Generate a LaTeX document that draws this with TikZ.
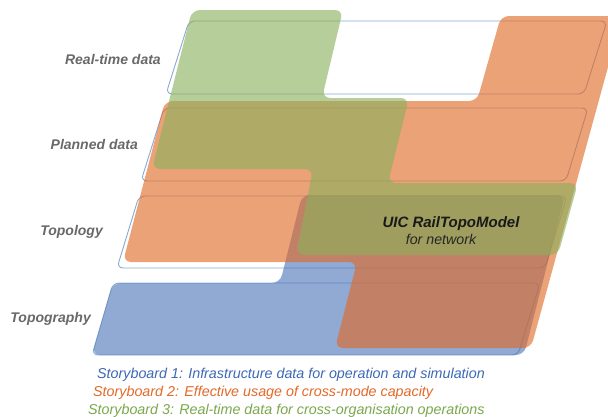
\documentclass[tikz,border=0pt]{standalone}
\usepackage{fontspec}
\setmainfont{Liberation Sans}
\definecolor{layerblue}{RGB}{135,170,208}
\definecolor{sbblue}{RGB}{78,118,186}
\definecolor{sborange}{RGB}{225,105,36}
\definecolor{sbgreen}{RGB}{138,176,92}
\definecolor{labelgray}{RGB}{105,105,105}
\definecolor{txtblue}{RGB}{60,105,182}
\definecolor{txtorange}{RGB}{228,105,40}
\definecolor{txtgreen}{RGB}{122,168,76}
\begin{document}
\begin{tikzpicture}[x=1pt,y=-1pt,
  layer/.style={draw=layerblue,line width=0.9pt,rounded corners=6pt},
  sbfill/.style={fill opacity=0.62,rounded corners=8pt},
  layerlabel/.style={anchor=base east,inner sep=0pt,text=labelgray,font=\fontsize{14}{17}\selectfont\bfseries\itshape},
  sbtext/.style={anchor=base west,inner sep=0pt,font=\fontsize{14.3}{17}\selectfont\itshape}]
\useasboundingbox (0,0) rectangle (608,416);
\fill[white] (0,0) rectangle (608,416);
% layer outlines
\draw[layer] (189,21) -- (607,21) -- (584,94) -- (166,94) -- cycle;
\draw[layer] (164,108) -- (588,108) -- (566,181) -- (141,181) -- cycle;
\draw[layer] (139,196) -- (567,196) -- (545,268) -- (117,268) -- cycle;
\draw[layer] (113,283) -- (540,283) -- (518,355) -- (92,355) -- cycle;
% storyboard 1 (blue)
\fill[sbblue,sbfill] (92,355) -- (113,283) -- (280,283) -- (302,195) -- (565,195) -- (524,355) -- cycle;
% storyboard 2 (orange)
\fill[sborange,sbfill] (501,16) -- (622,16) -- (531,348) -- (335,348) -- (357,262) -- (123,262) -- (165,101) -- (477,101) -- cycle;
% storyboard 3 (green)
\fill[sbgreen,sbfill] (192,10) -- (343,10) -- (322,98) -- (409,98) -- (388,183) -- (578,183) -- (558,255) -- (296,255) -- (313,169) -- (152,169) -- cycle;
% labels
\node[layerlabel] (rt) at (161,64) {Real-time data};
\node[layerlabel] (pd) at (138,149) {Planned data};
\node[layerlabel] (tl) at (103,235) {Topology};
\node[layerlabel] (tg) at (91,322) {Topography};
\node[anchor=base,inner sep=0pt,font=\fontsize{15}{17}\selectfont\bfseries\itshape,text=black!90] (uic) at (451,227) {UIC RailTopoModel};
\node[anchor=base,inner sep=0pt,font=\fontsize{14.2}{17}\selectfont\itshape,text=black!85] (net) at (441,244) {for network};
\node[sbtext,text=txtblue] (s1) at (97,378) {Storyboard 1: Infrastructure data for operation and simulation};
\node[sbtext,text=txtorange] (s2) at (93,396) {Storyboard 2: Effective usage of cross-mode capacity};
\node[sbtext,text=txtgreen] (s3) at (88,414) {Storyboard 3: Real-time data for cross-organisation operations};
\end{tikzpicture}
\end{document}
